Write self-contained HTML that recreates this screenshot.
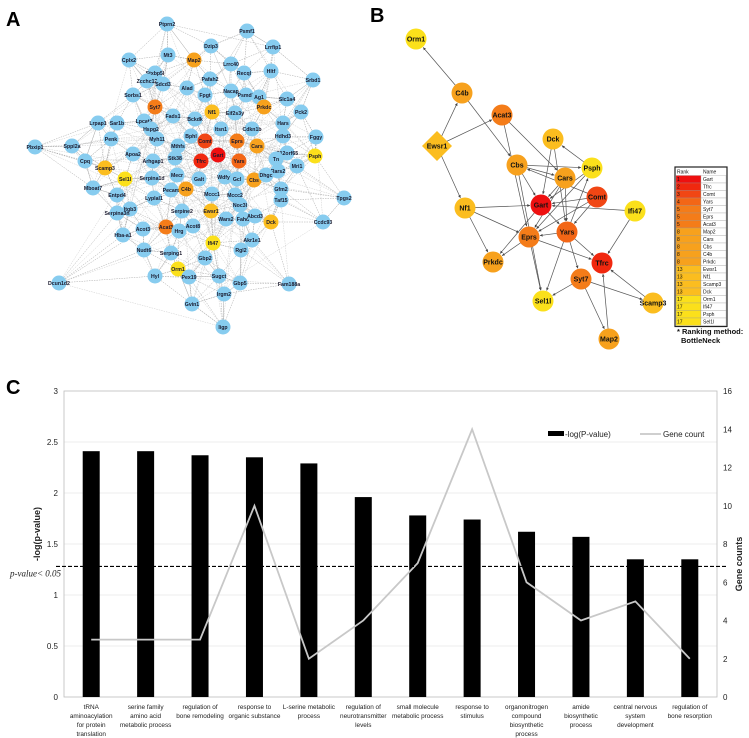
<!DOCTYPE html>
<html><head><meta charset="utf-8">
<style>
html,body{margin:0;padding:0;background:#fff;}
body{width:749px;height:738px;overflow:hidden;position:relative;font-family:"Liberation Sans",sans-serif;}
svg{position:absolute;left:0;top:0;}
</style></head>
<body>
<svg id="fig" width="749" height="738" viewBox="0 0 749 738">
  <text x="6" y="26" font-size="20" font-weight="bold">A</text>
  <text x="370" y="22" font-size="20" font-weight="bold">B</text>
  <text x="6" y="394" font-size="20" font-weight="bold">C</text>
  <g id="netA"></g>
  <g id="netB"></g>
  <g id="legendB"></g>
  <g id="chartC"></g>
</svg>
<script>
const NS="http://www.w3.org/2000/svg";
function mk(tag,attrs,parent){const e=document.createElementNS(NS,tag);for(const k in attrs)e.setAttribute(k,attrs[k]);parent.appendChild(e);return e;}
const BLUE="#87ccef";
const COL={r1:"#ee1010",r2:"#f0280f",r3:"#f14614",r4:"#f36616",r5:"#f47c19",r8:"#f7a11d",r13:"#fbbd1f",r17:"#fbe01b"};

// ---------- Panel A ----------
const nodesA=[["Ptprn2",167,24],["Psmf1",247,31],["Dzip3",211,46],["Lrrfip1",273,47],["Mt3",168,55],["Cplx2",129,60],["Map2",194,60,"r8"],["Lrrc40",231,64],["Hltf",271,71],["Stxbp5l",155,73],["Recql",244,73],["Zcchc12",147,81],["Sdcd3",163,84],["Pafah2",210,79],["Srbd1",313,80],["Alad",187,88],["Fpgt",205,95],["Nacap",231,91],["Psmd8",246,95],["Ag1",259,97],["Slc1a4",287,99],["Sorbs1",133,95],["Syt7",155,107,"r5"],["Nf1",212,112,"r13"],["Prkdc",264,107,"r8"],["Pck2",301,112],["Fads1",173,116],["Bckdk",195,119],["Eif2s3y",235,113],["Lrpap1",98,123],["Sar1b",117,123],["Lpcat2",144,121],["Hspg2",151,129],["Itsn1",221,129],["Cdkn1b",252,129],["Hars",283,123],["Penk",111,139],["Myh11",157,139],["Bphl",191,136],["Comt",205,141,"r3"],["Eprs",237,141,"r5"],["Cars",257,146,"r8"],["Hdhd3",283,136],["Fggy",316,137],["Pbxip1",35,147],["Sppl2a",72,146],["Mthfs",178,146],["Stk38",175,158],["Gart",218,155,"r1"],["Tfrc",201,161,"r2"],["Yars",239,161,"r4"],["C12orf65",287,153],["Psph",315,156,"r17"],["Cpq",85,161],["Apoa2",133,154],["Arhgap1",153,161],["Tn",276,159],["Rars2",278,171],["Mri1",297,166],["Scamp3",105,168,"r13"],["Sel1l",125,179,"r17"],["Mecr",177,175],["Serpina1d",152,178],["Galt",199,179],["Wdfy1",225,177],["Gcl",237,179],["Cbs",254,180,"r8"],["Dhgc",266,175],["Mboat7",93,188],["Entpd4",117,195],["Pecam",171,190],["C4b",186,189,"r8"],["Mccc1",212,194],["Mccc2",235,195],["Gfm2",281,189],["Lyplal1",154,198],["Noc3l",240,205],["Taf15",281,200],["Itgb3",130,209],["Serpine2",182,211],["Ewsr1",211,211,"r13"],["Serpina3n",117,213],["Wars2",226,219],["Fahd",243,219],["Abcd3",255,216],["Dck",271,222,"r13"],["Ccdc93",323,222],["Tpgs2",344,198],["Acot3",143,229],["Acat3",166,227,"r5"],["Acot8",193,226],["Hrg",179,231],["Hba-a1",123,235],["Akr1e1",252,240],["Ifi47",213,243,"r17"],["Nudt6",144,250],["Serping1",171,253],["Rgl2",241,250],["Gbp2",205,258],["Orm1",178,269,"r17"],["Hyl",155,276],["Pex19",189,277],["Sugct",219,276],["Gbp5",240,283],["Fam188a",289,284],["Dcun1d2",59,283],["Irgm2",224,294],["Gvin1",192,304],["Iigp",223,327]];
const gA=document.getElementById("netA");
const eA=mk("g",{},gA);


nodesA.forEach((n,i)=>{
  const d=nodesA.map((m,j)=>[j,(m[1]-n[1])**2+(m[2]-n[2])**2]).filter(x=>x[0]!==i).sort((a,b)=>a[1]-b[1]);
  const k=n[3]?9:5;
  for(let q=0;q<k;q++){const m=nodesA[d[q][0]];mk("line",{x1:n[1],y1:n[2],x2:m[1],y2:m[2],stroke:"#a8a8a8","stroke-width":0.5,"stroke-dasharray":"1.5,1"},eA);}
  [7,13].forEach(s=>{const hub=nodesA[(i*s+3)%nodesA.length];
  mk("line",{x1:n[1],y1:n[2],x2:hub[1],y2:hub[2],stroke:"#c0c0c0","stroke-width":0.4,"stroke-dasharray":"1.5,1"},eA);});
});
nodesA.forEach(n=>{
  const g=mk("g",{},gA);
  
  
  mk("circle",{cx:n[1],cy:n[2],r:7.5,fill:n[3]?COL[n[3]]:BLUE},g);
  const t=mk("text",{x:n[1],y:n[2]+2,"font-size":5.2,"font-weight":"bold","text-anchor":"middle",fill:"#1a1a2e"},g);
  t.textContent=n[0];
});

// ---------- Panel B ----------
const nodesB={Orm1:[416,39,"r17"],C4b:[462,93,"r8"],Acat3:[502,115,"r5"],Ewsr1:[437,146,"r13"],Dck:[553,139,"r13"],Cbs:[517,165,"r8"],Psph:[592,168,"r17"],Cars:[565,178,"r8"],Comt:[597,197,"r3"],Gart:[541,205,"r1"],Nf1:[465,208,"r13"],Ifi47:[635,211,"r17"],Yars:[567,232,"r4"],Eprs:[529,237,"r5"],Prkdc:[493,262,"r8"],Tfrc:[602,263,"r2"],Syt7:[581,279,"r5"],Sel1l:[543,301,"r17"],Scamp3:[653,303,"r13"],Map2:[609,339,"r8"]};
const edgesB=[["C4b","Orm1"],["Ewsr1","C4b"],["Ewsr1","Acat3"],["Ewsr1","Nf1"],["C4b","Cbs"],["Acat3","Eprs"],["Acat3","Cars"],["Cbs","Psph"],["Cbs","Cars"],["Cbs","Gart"],["Cbs","Sel1l"],["Dck","Gart"],["Psph","Dck"],["Psph","Gart"],["Psph","Eprs"],["Cars","Gart"],["Cars","Eprs"],["Comt","Cbs"],["Comt","Gart"],["Comt","Eprs"],["Comt","Yars"],["Nf1","Gart"],["Nf1","Eprs"],["Nf1","Prkdc"],["Ifi47","Gart"],["Ifi47","Tfrc"],["Gart","Prkdc"],["Gart","Yars"],["Yars","Eprs"],["Yars","Tfrc"],["Yars","Sel1l"],["Yars","Psph"],["Eprs","Tfrc"],["Eprs","Prkdc"],["Eprs","Sel1l"],["Syt7","Sel1l"],["Syt7","Scamp3"],["Syt7","Map2"],["Map2","Tfrc"],["Scamp3","Tfrc"],["Yars","Syt7"],["Cars","Yars"],["Dck","Yars"]];
const gB=document.getElementById("netB");
const defs=mk("defs",{},gB);
const mkr=mk("marker",{id:"arr",viewBox:"0 0 6 6",refX:6,refY:3,markerWidth:4,markerHeight:4,orient:"auto"},defs);
mk("path",{d:"M0,0 L6,3 L0,6 z",fill:"#444"},mkr);
edgesB.forEach(e=>{
  const a=nodesB[e[0]],b=nodesB[e[1]];
  const dx=b[0]-a[0],dy=b[1]-a[1],L=Math.hypot(dx,dy);
  const l=mk("line",{x1:a[0],y1:a[1],x2:b[0]-dx/L*11,y2:b[1]-dy/L*11,stroke:"#555","stroke-width":0.7,"marker-end":"url(#arr)"},gB);
  
  
});
for(const k in nodesB){
  const n=nodesB[k];
  const g=mk("g",{},gB);
  
  
  if(k==="Ewsr1") mk("polygon",{points:`${n[0]},${n[1]-15} ${n[0]+15},${n[1]} ${n[0]},${n[1]+15} ${n[0]-15},${n[1]}`,fill:COL[n[2]]},g);
  else mk("circle",{cx:n[0],cy:n[1],r:10.5,fill:COL[n[2]]},g);
  const t=mk("text",{x:n[0],y:n[1]+2.5,"font-size":7,"font-weight":"bold","text-anchor":"middle",fill:"#111"},g);
  t.textContent=k;
}

// ---------- Legend ----------
const legRank=["1","2","3","4","5","5","5","8","8","8","8","8","13","13","13","13","17","17","17","17"];
const legName=["Gart","Tfrc","Comt","Yars","Syt7","Eprs","Acat3","Map2","Cars","Cbs","C4b","Prkdc","Ewsr1","Nf1","Scamp3","Dck","Orm1","Ifi47","Psph","Sel1l"];
const legCol={"1":COL.r1,"2":COL.r2,"3":COL.r3,"4":COL.r4,"5":COL.r5,"8":COL.r8,"13":COL.r13,"17":COL.r17};
const gL=document.getElementById("legendB");
const lx=676,ly=168,rh=7.5,w1=25,w2=25;
mk("rect",{x:lx-1,y:ly-1,width:w1+w2+2,height:rh*21+2,fill:"#fff",stroke:"#222","stroke-width":1.2},gL);
let ht=mk("text",{x:lx+1,y:ly+5.5,"font-size":5,fill:"#111"},gL);ht.textContent="Rank";
ht=mk("text",{x:lx+w1+2,y:ly+5.5,"font-size":5,fill:"#111"},gL);ht.textContent="Name";
legRank.forEach((r,i)=>{
  const y=ly+rh*(i+1);
  const c=mk("rect",{x:lx,y:y,width:w1,height:rh,fill:legCol[r],stroke:"#999","stroke-width":0.3},gL);
  
  
  mk("rect",{x:lx+w1,y:y,width:w2,height:rh,fill:"#fff",stroke:"#999","stroke-width":0.3},gL);
  let t=mk("text",{x:lx+1,y:y+5.5,"font-size":5,fill:"#111"},gL);t.textContent=r;
  t=mk("text",{x:lx+w1+2,y:y+5.5,"font-size":5,fill:"#111"},gL);t.textContent=legName[i];
});
let nt=mk("text",{x:677,y:334,"font-size":7.5,"font-weight":"bold",fill:"#111"},gL);nt.textContent="* Ranking method:";
nt=mk("text",{x:681,y:343,"font-size":7.5,"font-weight":"bold",fill:"#111"},gL);nt.textContent="BottleNeck";

// ---------- Panel C chart ----------
const categories=[["tRNA","aminoacylation","for protein","translation"],["serine family","amino acid","metabolic process"],["regulation of","bone remodeling"],["response to","organic substance"],["L-serine metabolic","process"],["regulation of","neurotransmitter","levels"],["small molecule","metabolic process"],["response to","stimulus"],["organonitrogen","compound","biosynthetic","process"],["amide","biosynthetic","process"],["central nervous","system","development"],["regulation of","bone resorption"]];
const logP=[2.41,2.41,2.37,2.35,2.29,1.96,1.78,1.74,1.62,1.57,1.35,1.35];
const geneCount=[3,3,3,10,2,4,7,14,6,4,5,2];
const leftTicks=[0,0.5,1,1.5,2,2.5,3];
const rightTicks=[0,2,4,6,8,10,12,14,16];
const threshold=1.28;
const gC=document.getElementById("chartC");
const PL=64,PR=717,PT=391,PB=697;
const yL=v=>PB-(v/3)*(PB-PT);
const yR=v=>PB-(v/16)*(PB-PT);
const band=(PR-PL)/categories.length;
const xC=i=>PL+band*(i+0.5);
leftTicks.forEach(v=>{
  if(v>0&&v<3){const gl=mk("line",{x1:PL,x2:PR,y1:yL(v),y2:yL(v),stroke:"#ececec","stroke-width":1},gC);
  }
  const t=mk("text",{x:PL-6,y:yL(v)+3,"font-size":8,"text-anchor":"end",fill:"#222"},gC);t.textContent=String(v);
  
});
rightTicks.forEach(v=>{
  const t=mk("text",{x:PR+6,y:yR(v)+3,"font-size":8,fill:"#222"},gC);t.textContent=String(v);
  
});
const frame=mk("rect",{x:PL,y:PT,width:PR-PL,height:PB-PT,fill:"none",stroke:"#bdbdbd","stroke-width":0.8},gC);

logP.forEach((v,i)=>{
  const b=mk("rect",{x:xC(i)-8.5,y:yL(v),width:17,height:PB-yL(v),fill:"#000"},gC);
  
  
});
const pts=geneCount.map((v,i)=>xC(i)+","+yR(v)).join(" ");
const pl=mk("polyline",{points:pts,fill:"none",stroke:"#c8c8c8","stroke-width":1.8},gC);

const th=mk("line",{x1:56,x2:728,y1:yL(threshold),y2:yL(threshold),stroke:"#000","stroke-width":1.2,"stroke-dasharray":"4,2"},gC);

const pv=mk("text",{x:10,y:yL(threshold)+10,"font-size":9,"font-style":"italic","font-family":"Liberation Serif, serif",fill:"#222"},gC);pv.textContent="p-value< 0.05";

categories.forEach((lines,i)=>{
  lines.forEach((s,j)=>{
    const t=mk("text",{x:xC(i),y:709+j*9,"font-size":6.4,"text-anchor":"middle",fill:"#222"},gC);t.textContent=s;
    
  });
});
const yt=mk("text",{x:0,y:0,"font-size":9,"font-weight":"bold","text-anchor":"middle",transform:`translate(40,${(PT+PB)/2-10}) rotate(-90)`,fill:"#222"},gC);yt.textContent="-log(p-value)";

const yt2=mk("text",{x:0,y:0,"font-size":9,"font-weight":"bold","text-anchor":"middle",transform:`translate(742,${(PT+PB)/2+20}) rotate(-90)`,fill:"#222"},gC);yt2.textContent="Gene counts";

const lg=mk("g",{},gC);

mk("rect",{x:548,y:431,width:16,height:5,fill:"#000"},lg);
let lt=mk("text",{x:565,y:437,"font-size":8,fill:"#222"},lg);lt.textContent="-log(P-value)";
mk("line",{x1:640,x2:661,y1:434,y2:434,stroke:"#c8c8c8","stroke-width":1.8},lg);
lt=mk("text",{x:663,y:437,"font-size":8,fill:"#222"},lg);lt.textContent="Gene count";
</script>
</body></html>
